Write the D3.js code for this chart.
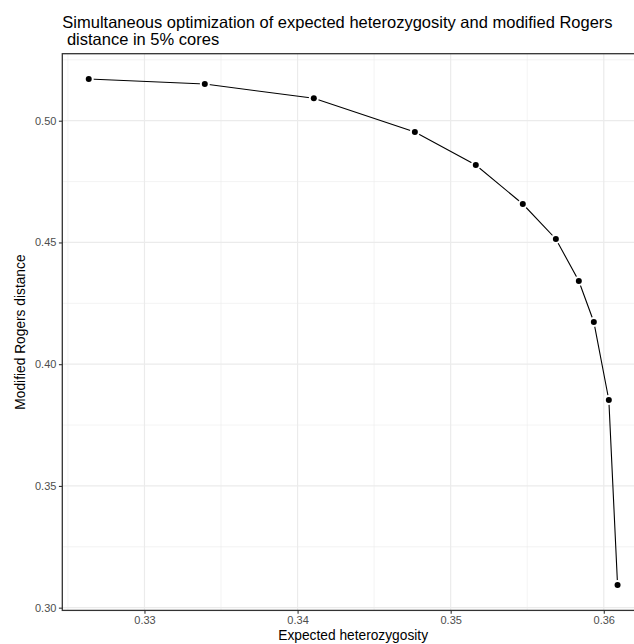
<!DOCTYPE html>
<html>
<head>
<meta charset="utf-8">
<script src="https://cdn.jsdelivr.net/npm/d3@7"></script>
<style>
  body { margin: 0; background: #fff; }
  svg { display: block; font-family: "Liberation Sans", Arial, sans-serif; }
</style>
</head>
<body>
<svg id="chart" width="634" height="644"></svg>
<script>
// values
var heterozygosity = [0.32636, 0.33394, 0.34106, 0.34766, 0.35164, 0.35471, 0.35687, 0.35837, 0.35935, 0.36033, 0.36090];
var rogersDistance = [0.51713, 0.51507, 0.50920, 0.49536, 0.48181, 0.46579, 0.45142, 0.43417, 0.41733, 0.38530, 0.30927];
var xTicks = [0.33, 0.34, 0.35, 0.36];
var yTicks = [0.30, 0.35, 0.40, 0.45, 0.50];
var xMinor = [0.325, 0.335, 0.345, 0.355];
var yMinor = [0.325, 0.375, 0.425, 0.475, 0.525];
var titleLines = ["Simultaneous optimization of expected heterozygosity and modified Rogers", " distance in 5% cores"];

var panel = { left: 62.3, top: 53.7, right: 644, bottom: 610.4 };

// ggplot style 5% expansion
function expand(ext) {
  var pad = (ext[1] - ext[0]) * 0.05;
  return [ext[0] - pad, ext[1] + pad];
}

var x = d3.scaleLinear().domain(expand(d3.extent(heterozygosity))).range([panel.left, panel.right]);
var y = d3.scaleLinear().domain(expand(d3.extent(rogersDistance))).range([panel.bottom, panel.top]);

var svg = d3.select("#chart");

var data = heterozygosity.map(function (h, i) { return { h: h, r: rogersDistance[i] }; });

// grid
var grid = svg.append("g");
grid.selectAll("line.xminor").data(xMinor).enter().append("line")
  .attr("x1", x).attr("x2", x).attr("y1", panel.top).attr("y2", panel.bottom)
  .attr("stroke", "#ebebeb").attr("stroke-width", 0.6);
grid.selectAll("line.yminor").data(yMinor).enter().append("line")
  .attr("y1", y).attr("y2", y).attr("x1", panel.left).attr("x2", panel.right)
  .attr("stroke", "#ebebeb").attr("stroke-width", 0.6);
grid.selectAll("line.xmajor").data(xTicks).enter().append("line")
  .attr("x1", x).attr("x2", x).attr("y1", panel.top).attr("y2", panel.bottom)
  .attr("stroke", "#ebebeb").attr("stroke-width", 1.2);
grid.selectAll("line.ymajor").data(yTicks).enter().append("line")
  .attr("y1", y).attr("y2", y).attr("x1", panel.left).attr("x2", panel.right)
  .attr("stroke", "#ebebeb").attr("stroke-width", 1.2);

// line + points
var line = d3.line().x(function (d) { return x(d.h); }).y(function (d) { return y(d.r); });
svg.append("path").datum(data)
  .attr("d", line)
  .attr("fill", "none")
  .attr("stroke", "#000")
  .attr("stroke-width", 1.1);

// white halo under each point leaves the small gap in the line
svg.selectAll("circle.halo").data(data).enter().append("circle")
  .attr("class", "halo")
  .attr("cx", function (d) { return x(d.h); })
  .attr("cy", function (d) { return y(d.r); })
  .attr("r", 5)
  .attr("fill", "#fff");

svg.selectAll("circle.pt").data(data).enter().append("circle")
  .attr("class", "pt")
  .attr("cx", function (d) { return x(d.h); })
  .attr("cy", function (d) { return y(d.r); })
  .attr("r", 3)
  .attr("fill", "#000");

// panel border
svg.append("rect")
  .attr("x", panel.left).attr("y", panel.top)
  .attr("width", panel.right - panel.left).attr("height", panel.bottom - panel.top)
  .attr("fill", "none").attr("stroke", "#333").attr("stroke-width", 1.3);

// axes
var xAxis = svg.append("g")
  .attr("transform", "translate(0," + panel.bottom + ")")
  .call(d3.axisBottom(x).tickValues(xTicks).tickFormat(d3.format(".2f")).tickSizeInner(3.4).tickSizeOuter(0).tickPadding(2.5));
var yAxis = svg.append("g")
  .attr("transform", "translate(" + panel.left + ",0)")
  .call(d3.axisLeft(y).tickValues(yTicks).tickFormat(d3.format(".2f")).tickSizeInner(3.4).tickSizeOuter(0).tickPadding(2.5));

[xAxis, yAxis].forEach(function (a) {
  a.select(".domain").remove();
  a.selectAll(".tick line").attr("stroke", "#333").attr("stroke-width", 1.1);
  a.selectAll(".tick text").attr("fill", "#4d4d4d").style("font-size", "11px").style("font-family", "'Liberation Sans', Arial, sans-serif");
});

// titles
svg.append("text")
  .attr("x", (panel.left + panel.right) / 2).attr("y", 640)
  .attr("text-anchor", "middle")
  .style("font-size", "13.75px")
  .text("Expected heterozygosity");

svg.append("text")
  .attr("transform", "translate(25," + (panel.top + panel.bottom) / 2 + ") rotate(-90)")
  .attr("text-anchor", "middle")
  .style("font-size", "13.75px")
  .text("Modified Rogers distance");

svg.selectAll("text.title").data(titleLines).enter().append("text")
  .attr("class", "title")
  .attr("x", panel.left)
  .attr("y", function (d, i) { return 27.5 + i * 17.5; })
  .style("font-size", "16.5px")
  .style("white-space", "pre")
  .attr("xml:space", "preserve")
  .text(function (d) { return d; });
</script>
</body>
</html>
